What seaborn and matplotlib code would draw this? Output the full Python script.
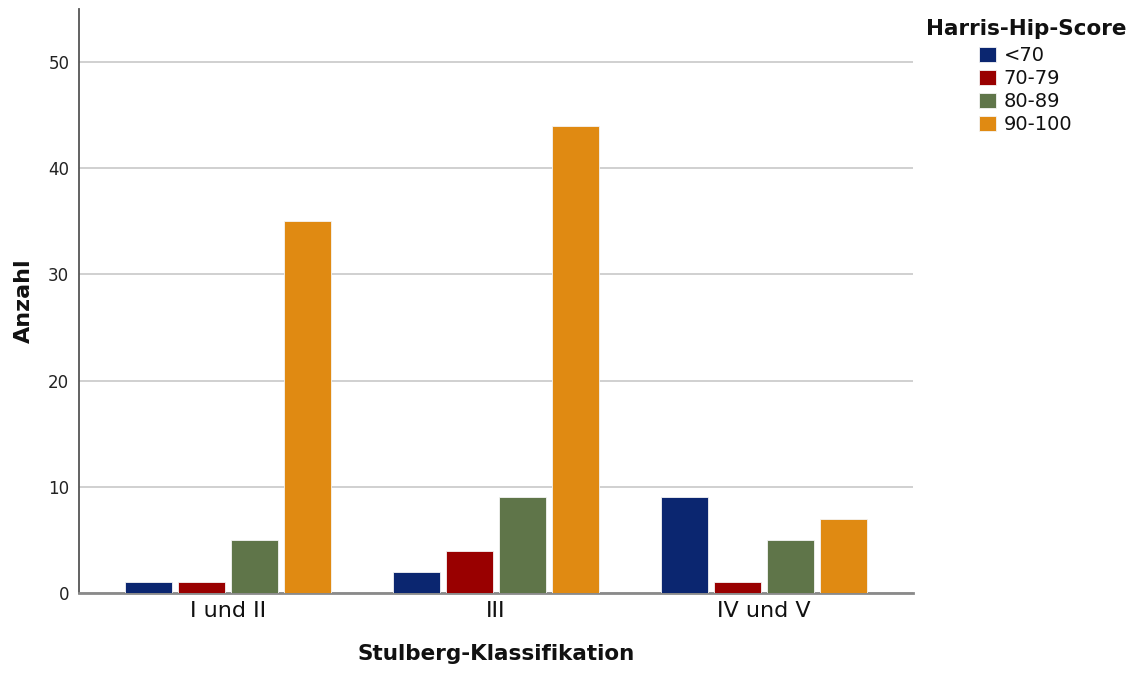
import numpy as np
import pandas as pd
import matplotlib
matplotlib.use("Agg")
import matplotlib.pyplot as plt
import seaborn as sns

categories = ["I und II", "III", "IV und V"]
hue_levels = ["<70", "70-79", "80-89", "90-100"]
vals_lt70 = [1, 2, 9]
vals_70_79 = [1, 4, 1]
vals_80_89 = [5, 9, 5]
vals_90_100 = [35, 44, 7]
colors = ["#0B2670", "#990000", "#5F7549", "#E08A12"]

rows = []
for lvl, vals in zip(hue_levels, [vals_lt70, vals_70_79, vals_80_89, vals_90_100]):
    for c, v in zip(categories, vals):
        rows.append({"Stulberg-Klassifikation": c, "Harris-Hip-Score": lvl, "Anzahl": v})
df = pd.DataFrame(rows)

sns.set_theme(style="white")
plt.rcParams['font.family'] = ['DejaVu Sans']

fig = plt.figure(figsize=(11.39, 6.75), dpi=100)
ax = fig.add_axes([79/1139, 82/675, 834/1139, 584/675])

sns.barplot(data=df, x="Stulberg-Klassifikation", y="Anzahl", hue="Harris-Hip-Score",
            order=categories, hue_order=hue_levels, palette=colors, saturation=1,
            width=0.79, gap=0.1, edgecolor="#f4f4f4", linewidth=0.6, ax=ax, zorder=3)

ax.set_ylim(0, 55)
ax.set_xlim(-0.556, 2.556)
ax.set_yticks([0, 10, 20, 30, 40, 50])
ax.yaxis.grid(True, color="#c8c8c8", linewidth=1.2, zorder=0)
ax.set_axisbelow(True)
for s in ["top", "right"]:
    ax.spines[s].set_visible(False)
ax.spines["left"].set_color("#555555")
ax.spines["left"].set_linewidth(1.3)
ax.spines["bottom"].set_color("#8a8a8a")
ax.spines["bottom"].set_linewidth(2)
ax.tick_params(axis="y", length=0, labelsize=12, pad=7, labelcolor="#222222")
ax.tick_params(axis="x", length=0, labelsize=16, pad=6, labelcolor="#111111")
ax.set_ylabel("Anzahl", fontsize=16, fontweight="bold", labelpad=10, color="#111111")
ax.set_xlabel("Stulberg-Klassifikation", fontsize=15.5, fontweight="bold", labelpad=16, color="#111111")

leg = ax.get_legend()
handles, labels = ax.get_legend_handles_labels()
leg.remove()
lg = fig.legend(handles, labels, title="Harris-Hip-Score", loc="upper left",
                bbox_to_anchor=(908/1139, 673/675), frameon=False, fontsize=14,
                title_fontproperties={"weight": "bold", "size": 15.5},
                handlelength=0.85, handleheight=0.85, handletextpad=0.4, labelspacing=0.2)
for t in lg.get_texts():
    t.set_color("#111111")
lg.get_title().set_color("#111111")
lg._legend_box.sep = 5

fig.savefig("out.png", dpi=100, facecolor="white")
